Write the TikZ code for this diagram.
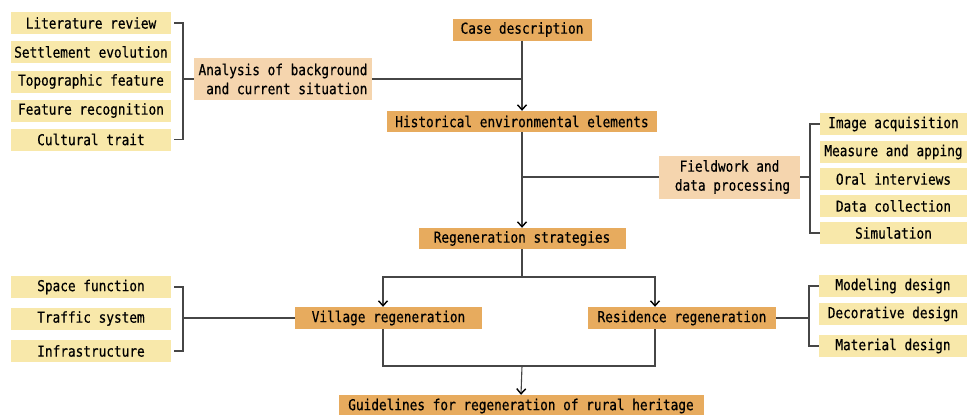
\documentclass[tikz,border=0pt]{standalone}
\usepackage{fontspec}
\setmainfont[FakeStretch=0.85,FakeBold=0.5]{DejaVu Sans Mono}
\usetikzlibrary{arrows.meta}
\definecolor{leafyellow}{RGB}{248,232,170}
\definecolor{stageorange}{RGB}{231,171,94}
\definecolor{midpeach}{RGB}{245,213,174}
\definecolor{linegray}{RGB}{70,70,70}
\tikzset{
  leafbox/.style={fill=leafyellow, minimum width=#1, minimum height=22pt, inner sep=0pt},
  leafbox/.default=160pt,
  stagebox/.style={fill=stageorange, minimum height=22pt, inner sep=0pt},
  midbox/.style={fill=midpeach, minimum height=42pt, inner sep=0pt},
  conn/.style={draw=linegray, line width=1.1pt},
  flow/.style={conn, -{Straight Barb[length=5pt,width=9pt,line width=1.4pt,color=black]}}
}

\begin{document}
\begin{tikzpicture}[x=1pt, y=-1pt, font=\fontsize{15}{19}\selectfont]
  \useasboundingbox (0,0) rectangle (967,415);
  % main column
  \node[stagebox, minimum width=139pt] (case) at (522,29.5) {Case description};
  \node[stagebox, minimum width=270pt, minimum height=21pt] (hist) at (522,121.5) {Historical environmental elements};
  \node[stagebox, minimum width=207pt, minimum height=21pt] (strat) at (522,238.5) {Regeneration strategies};
  \node[stagebox, minimum width=187pt] (vil) at (388.5,318) {Village regeneration};
  \node[stagebox, minimum width=188pt] (res) at (682,318) {Residence regeneration};
  \node[stagebox, minimum width=365pt] (guide) at (521,406) {Guidelines for regeneration of rural heritage};
  % side boxes
  \node[midbox, minimum width=178pt, align=right] (ana) at (283,79) {Analysis of background\\and current situation};
  \node[midbox, minimum width=141pt, minimum height=43pt, align=center] (field) at (729.5,177) {Fieldwork and\\\hspace{6pt}data processing};
  % left top leaves
  \node[leafbox] (lit) at (91,23) {Literature review};
  \node[leafbox] (sett) at (91,52) {Settlement evolution};
  \node[leafbox] (topo) at (91,81.5) {Topographic feature};
  \node[leafbox] (recog) at (91,110.5) {Feature recognition};
  \node[leafbox] (cult) at (91,139.5) {Cultural trait};
  % right top leaves
  \node[leafbox=147pt] (img) at (893.5,124) {Image acquisition};
  \node[leafbox=147pt] (meas) at (893.5,152) {Measure and apping};
  \node[leafbox=147pt] (oral) at (893.5,179) {Oral interviews};
  \node[leafbox=147pt] (data) at (893.5,206) {Data collection};
  \node[leafbox=147pt] (sim) at (893.5,233) {Simulation};
  % left bottom leaves
  \node[leafbox] (space) at (91,287) {Space function};
  \node[leafbox] (traf) at (91,318.5) {Traffic system};
  \node[leafbox] (infra) at (91,351) {Infrastructure};
  % right bottom leaves
  \node[leafbox=148pt] (model) at (893,286) {Modeling design};
  \node[leafbox=148pt] (deco) at (893,314) {Decorative design};
  \node[leafbox=148pt] (mat) at (893,346) {Material design};

  % brackets
  \coordinate (lbrk) at (183,0);
  \coordinate (rbrk) at (810,0);
  \coordinate (lbrk2) at (183,0);
  \coordinate (rbrk2) at (809,0);
  \draw[conn] ([xshift=3pt]lit.east) -- (lit.east -| lbrk) -- (cult.east -| lbrk) -- ([xshift=3pt]cult.east);
  \draw[conn] (ana.west) -- (ana.west -| lbrk);
  \draw[conn] (img.west) -- (img.west -| rbrk) -- (sim.west -| rbrk) -- (sim.west);
  \draw[conn] (field.east) -- (field.east -| rbrk);
  \draw[conn] ([xshift=3pt]space.east) -- (space.east -| lbrk2) -- (infra.east -| lbrk2) -- ([xshift=3pt]infra.east);
  \draw[conn] (vil.west) -- (vil.west -| lbrk2);
  \draw[conn] (model.west) -- (model.west -| rbrk2) -- (mat.west -| rbrk2) -- (mat.west);
  \draw[conn] (res.east) -- (res.east -| rbrk2);

  % main flow
  \draw[flow] (case.south) -- (hist.north);
  \draw[conn] (ana.east) -- (ana.east -| case.south);
  \draw[flow] (hist.south) -- (strat.north);
  \draw[conn] (field.west) -- (field.west -| hist.south);
  \coordinate (split) at (522,277);
  \coordinate (merge) at (522,366);
  \draw[conn] (strat.south) -- (split);
  \draw[flow] (split) -| ([xshift=-5.5pt]vil.north);
  \draw[flow] (split) -| ([xshift=-27pt]res.north);
  \draw[conn] ([xshift=-5.5pt]vil.south) |- (merge) -| ([xshift=-27pt]res.south);
  \draw[flow] (merge) -- (guide.north);
\end{tikzpicture}
\end{document}
